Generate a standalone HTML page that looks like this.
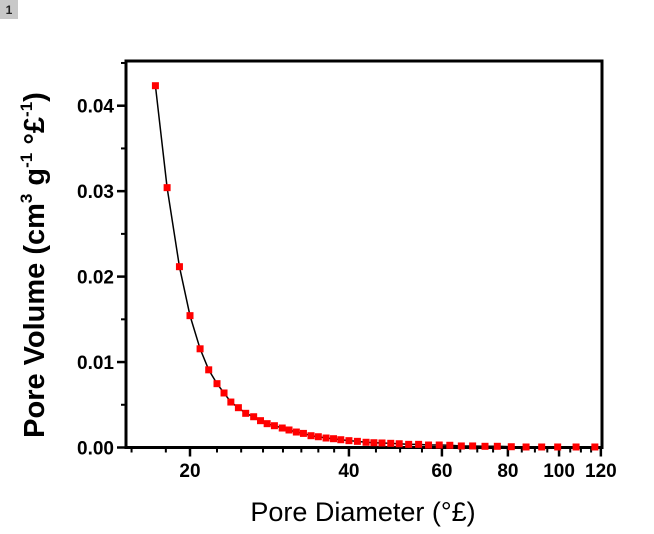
<!DOCTYPE html>
<html><head><meta charset="utf-8"><style>
html,body{margin:0;padding:0;background:#fff;}
svg{display:block;font-family:"Liberation Sans",Arial,sans-serif;}
</style></head><body>
<svg id="chart" width="654" height="534" viewBox="0 0 654 534" xmlns="http://www.w3.org/2000/svg">
<rect x="0" y="0" width="18" height="19" fill="#c8c8c8"/>
<text x="9" y="14" font-size="12" font-weight="bold" text-anchor="middle" fill="#222">1</text>
<g id="plot"></g>
<text x="363" y="521" font-size="27" text-anchor="middle">Pore Diameter (°£)</text>
<text transform="translate(44,265) rotate(-90)" font-size="29" font-weight="bold" text-anchor="middle">Pore Volume (cm<tspan font-size="17" dy="-12">3</tspan><tspan dy="12"> g</tspan><tspan font-size="17" dy="-12">-1</tspan><tspan dy="12"> °£</tspan><tspan font-size="17" dy="-12">-1</tspan><tspan dy="12">)</tspan></text>
</svg>
<script>
const diameters=[17.2,18.1,19.1,20.0,20.9,21.7,22.5,23.2,23.9,24.7,25.5,26.4,27.2,28.0,28.9,29.9,30.8,31.8,32.8,33.9,35.0,36.2,37.4,38.6,40.0,41.5,43.1,44.6,46.2,48.0,49.8,51.9,54.2,56.6,59.3,62.1,65.3,68.6,72.4,76.4,81.2,86.6,92.7,99.4,107.7,116.9];
const volumes=[0.04234,0.03041,0.02116,0.01543,0.01155,0.00909,0.00747,0.00638,0.00532,0.00466,0.00400,0.00360,0.00314,0.00279,0.00255,0.00228,0.00205,0.00181,0.00165,0.00138,0.00126,0.00111,0.00103,0.00091,0.00080,0.00072,0.00061,0.00056,0.00053,0.00049,0.00044,0.00037,0.00037,0.00029,0.00029,0.00026,0.00018,0.00018,0.00014,0.00014,0.00009,0.00006,0.00006,0.00006,0.00006,0.00006];
const xTicks=[20,40,60,80,100,120];
const xMinor=[15.5,18,22.5,25,27.5,30,32.5,35,37.5,45,50,55,65,70,75,85,90,95,105,110,115];
const yTicks=[0,0.01,0.02,0.03,0.04];
const yMinor=[0.005,0.015,0.025,0.035,0.045];
const yLabels=["0.00","0.01","0.02","0.03","0.04"];
const L=126,R=602,T=61,B=447.5;
const xs=v=>190+528*Math.log10(v/20);
const ys=v=>B-v*8545;
const NS="http://www.w3.org/2000/svg";
const g=document.getElementById('plot');
function mk(t,a){const e=document.createElementNS(NS,t);for(const k in a)e.setAttribute(k,a[k]);g.appendChild(e);return e;}
let fr=mk('rect',{x:L,y:T,width:R-L,height:B-T,fill:'none',stroke:'#000','stroke-width':3});


xTicks.forEach(v=>{const x=xs(v);
 let t=mk('line',{x1:x,x2:x,y1:B,y2:B+9,stroke:'#000','stroke-width':2.5});
 
 
 let l=mk('text',{x:x,y:477,'font-size':19,'font-weight':'bold','text-anchor':'middle'});l.textContent=v;
 
 
});
xMinor.forEach(v=>{const x=xs(v);
 let t=mk('line',{x1:x,x2:x,y1:B,y2:B+5,stroke:'#000','stroke-width':2});
 
 
});
yTicks.forEach((v,i)=>{const y=ys(v);
 let t=mk('line',{x1:L-9,x2:L,y1:y,y2:y,stroke:'#000','stroke-width':2.5});
 
 
 let l=mk('text',{x:114,y:y+7,'font-size':19,'font-weight':'bold','text-anchor':'end'});l.textContent=yLabels[i];
 
 
});
yMinor.forEach(v=>{const y=ys(v);
 let t=mk('line',{x1:L-5,x2:L,y1:y,y2:y,stroke:'#000','stroke-width':2});
 
 
});
let pl=mk('polyline',{points:diameters.map((d,i)=>xs(d)+','+ys(volumes[i])).join(' '),fill:'none',stroke:'#000','stroke-width':1.5});


diameters.forEach((d,i)=>{
 let p=mk('rect',{x:xs(d)-3.5,y:ys(volumes[i])-3.5,width:7,height:7,fill:'#ff0000'});
 
 
});
</script>
</body></html>
